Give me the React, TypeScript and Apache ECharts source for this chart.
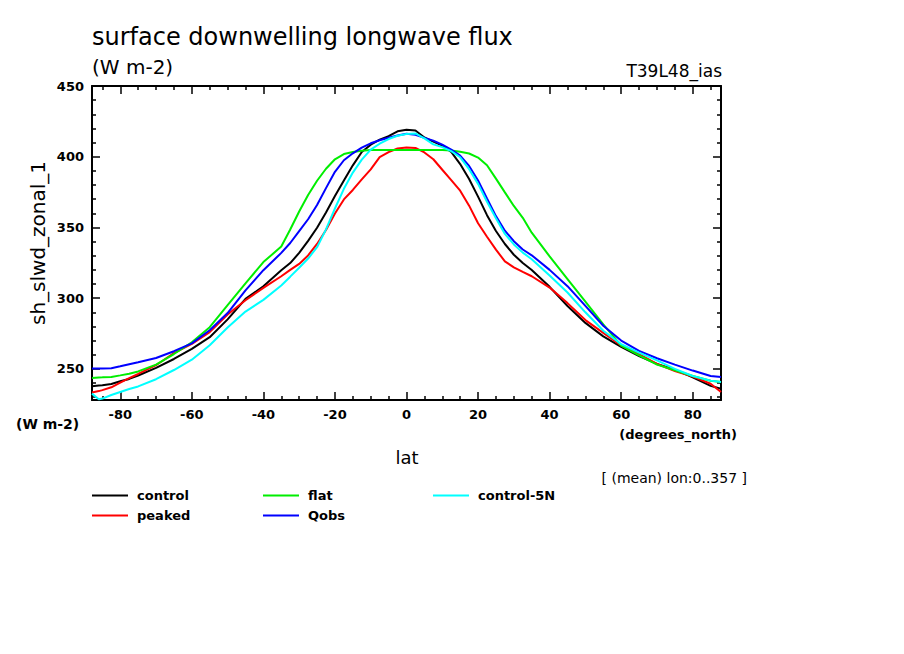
import React, { useEffect, useRef } from "react";
import * as echarts from "echarts";

const lats = [-87.9, -86, -85, -82.5, -80, -77.5, -75, -70, -65, -60, -55, -50, -45, -40, -35, -32.5, -30, -27.5, -25, -22.5, -20, -17.5, -15, -12.5, -10, -7.5, -5, -2.5, 0, 2.5, 5, 7.5, 10, 12.5, 15, 17.5, 20, 22.5, 25, 27.5, 30, 32.5, 35, 40, 45, 50, 55, 60, 65, 70, 75, 80, 85, 87.9];

const control = [237.7, 238.3, 238.5, 239.3, 241.2, 242.9, 245.3, 250.7, 257, 264.1, 272.4, 285, 299.5, 308.4, 319.7, 324.8, 332, 340.5, 349.8, 360.6, 372.2, 383.2, 393.9, 403.3, 408.5, 412.1, 414.5, 418, 419, 418.5, 413.6, 410.7, 407.9, 403.4, 394.8, 384.3, 371.8, 358.7, 347.5, 338.3, 330.7, 324.9, 319.9, 308, 294.5, 282.5, 273, 265.5, 259, 253.5, 249.5, 244, 238, 236];

const peaked = [233.3, 234.3, 235, 237, 240.3, 243.4, 246.4, 252.6, 261.2, 267.7, 276, 288.5, 298.5, 307.3, 315.5, 320, 324.2, 330.2, 338.3, 348.2, 359.9, 369.8, 376.5, 384, 391.1, 399.7, 403.2, 405.8, 406.6, 406.2, 403, 398.2, 390.8, 383.5, 376, 365.4, 353, 343.4, 334.3, 326, 321.8, 318.6, 315.5, 307.5, 296.5, 284.5, 275.5, 266.5, 260.5, 253.5, 248.5, 244.5, 239.5, 233.7];

const flat = [243.6, 243.9, 244, 244.3, 245.4, 246.6, 248.2, 253, 260.5, 268.8, 279.5, 295, 310.5, 325.5, 336.5, 348.5, 361.3, 373, 383, 391.5, 398.2, 401.9, 403.4, 404.3, 404.7, 404.7, 404.7, 404.7, 404.7, 404.7, 404.7, 404.7, 404.7, 404.4, 403.5, 402.3, 399.4, 394, 384.5, 374.8, 365.2, 356.8, 346.3, 329.5, 313.5, 297.5, 281.5, 266.5, 259.5, 253, 249, 245, 241.6, 240.8];

const qobs = [250.2, 250.2, 250.2, 250.5, 251.8, 253.3, 254.7, 257.7, 262.5, 268, 277.3, 289.5, 305.5, 319.8, 332, 339, 347.4, 355.8, 365.9, 377.8, 389.3, 397.5, 402.4, 406.4, 409.5, 411.6, 413.4, 415, 416.2, 415.5, 413.3, 411.4, 408.5, 405.1, 400.8, 393.5, 383.2, 370.5, 358, 347.7, 340.3, 334.4, 330.3, 320, 308.5, 294.5, 280.5, 270, 262.7, 257.5, 253, 248.8, 245, 244.3];

const control5N = [232.5, 228.5, 229, 231.5, 233.7, 235.8, 237.6, 242.7, 249.2, 256.5, 266.7, 279.2, 290.5, 298.8, 309, 315.2, 321.5, 328, 336, 348.6, 363.4, 377.3, 388.8, 397.9, 405, 409.2, 412.5, 414.8, 416, 416.5, 413, 408.7, 406.8, 404, 399.6, 391.2, 380.8, 368.2, 356.5, 345.4, 338, 332.2, 327.5, 316, 304, 290, 277, 267.5, 261.5, 256, 250, 245, 241.7, 240.8];

const seriesNames = ["control", "peaked", "flat", "Qobs", "control-5N"];
const seriesColors = ["#000000", "#ff0000", "#00ee00", "#0000ff", "#00ffff"];
const seriesValues = [control, peaked, flat, qobs, control5N];

const xMajor = [-80, -60, -40, -20, 0, 20, 40, 60, 80];
const xMinor = [-85, -75, -70, -65, -55, -50, -45, -35, -30, -25, -15, -10, -5, 5, 10, 15, 25, 30, 35, 45, 50, 55, 65, 70, 75, 85];
const yMajor = [250, 300, 350, 400, 450];
const yMinor = [230, 240, 260, 270, 280, 290, 310, 320, 330, 340, 360, 370, 380, 390, 410, 420, 430, 440];

const X_MIN = -87.9;
const X_MAX = 87.9;
const Y_MIN = 228;
const Y_MAX = 450;

const FONT = "DejaVu Sans";

export default function App() {
  const ref = useRef<HTMLDivElement>(null);
  useEffect(() => {
    if (!ref.current) return;
    const chart = echarts.init(ref.current, null, { renderer: "svg" });

    const label = {
      color: "#000",
      fontSize: 13,
      fontWeight: "bold" as const,
      fontFamily: FONT,
      margin: 8,
    };
    const mkAxis = (min: number, max: number, position: string, ticks: number[], len: number, showLine: boolean, labels: number[] | null) => ({
      type: "value",
      min,
      max,
      position,
      splitLine: { show: false },
      axisLine: { show: showLine, onZero: false, lineStyle: { color: "#000", width: 2 } },
      axisTick: {
        show: true,
        inside: true,
        length: len,
        customValues: ticks,
        lineStyle: { color: "#000", width: 1.5 },
      },
      axisLabel: labels ? { ...label, show: true, customValues: labels } : { show: false },
    });

    const xAxes = [
      mkAxis(X_MIN, X_MAX, "bottom", xMajor, 8, true, xMajor),
      mkAxis(X_MIN, X_MAX, "bottom", xMinor, 4, false, null),
      mkAxis(X_MIN, X_MAX, "top", xMajor, 8, true, null),
      mkAxis(X_MIN, X_MAX, "top", xMinor, 4, false, null),
    ];
    const yAxes = [
      mkAxis(Y_MIN, Y_MAX, "left", yMajor, 8, true, yMajor),
      mkAxis(Y_MIN, Y_MAX, "left", yMinor, 4, false, null),
      mkAxis(Y_MIN, Y_MAX, "right", yMajor, 8, true, null),
      mkAxis(Y_MIN, Y_MAX, "right", yMinor, 4, false, null),
    ];

    const series = seriesNames.map((name, i) => ({
      name,
      type: "line",
      xAxisIndex: 0,
      yAxisIndex: 0,
      symbol: "none",
      smooth: false,
      color: seriesColors[i],
      lineStyle: { color: seriesColors[i], width: 2 },
      data: lats.map((lat, j) => [lat, seriesValues[i][j]]),
      z: 3,
    }));

    const legendBase = {
      orient: "vertical" as const,
      top: 489,
      padding: 0,
      icon: "rect",
      itemWidth: 36,
      itemHeight: 2,
      itemGap: 7,
      textStyle: {
        fontSize: 13,
        fontWeight: "bold" as const,
        fontFamily: FONT,
        color: "#000",
        padding: [0, 0, 0, 4],
      },
      selectedMode: false,
    };

    const txt = (text: string, x: number, y: number, size: number, weight: string, align: string, extra: any = {}) => ({
      type: "text",
      x,
      y,
      silent: true,
      ...extra,
      style: {
        text,
        fill: "#000",
        fontSize: size,
        fontWeight: weight,
        fontFamily: FONT,
        align,
        verticalAlign: "middle",
      },
    });

    chart.setOption({
      animation: false,
      backgroundColor: "#ffffff",
      grid: { left: 92, right: 183, top: 86, bottom: 254, containLabel: false },
      xAxis: xAxes,
      yAxis: yAxes,
      series,
      legend: [
        { ...legendBase, left: 92, data: ["control", "peaked"] },
        { ...legendBase, left: 263, data: ["flat", "Qobs"] },
        { ...legendBase, left: 433, data: ["control-5N"] },
      ],
      graphic: [
        txt("surface downwelling longwave flux", 92, 37, 24, "normal", "left"),
        txt("(W m-2)", 92, 67, 20, "normal", "left"),
        txt("T39L48_ias", 722, 71, 17, "normal", "right"),
        txt("(W m-2)", 16, 424, 14, "bold", "left"),
        txt("(degrees_north)", 737, 434, 13, "bold", "right"),
        txt("lat", 407, 457, 18, "normal", "center"),
        txt("[ (mean) lon:0..357 ]", 747, 478, 14, "normal", "right"),
        txt("sh_slwd_zonal_1", 38, 243, 20, "normal", "center", { rotation: Math.PI / 2 }),
      ],
    });
    return () => chart.dispose();
  }, []);
  return (
    <div
      ref={ref}
      style={{ position: "fixed", left: 0, top: 0, width: 904, height: 654, background: "#fff" }}
    />
  );
}
